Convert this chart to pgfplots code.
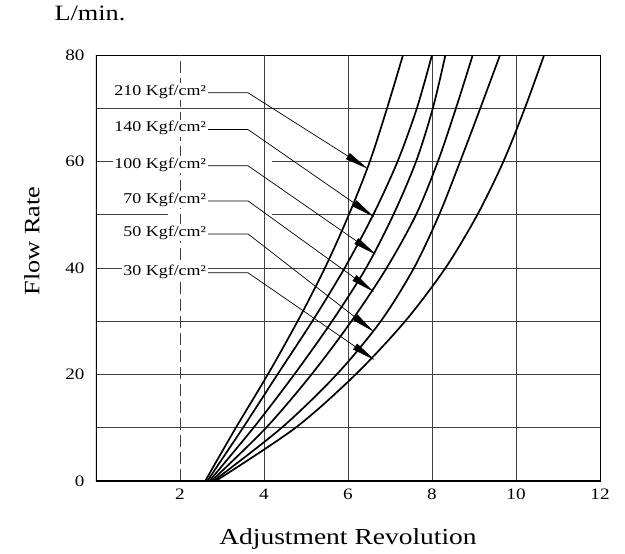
\documentclass[border=0pt]{standalone}
\usepackage{pgfplots}
\pgfplotsset{compat=1.18}
\usepackage{fontspec}
\setmainfont{Liberation Serif}[FakeStretch=1.2]
\usetikzlibrary{arrows.meta}

\newcommand\tickfont{\fontsize{16}{16}\selectfont}
\newcommand\lblfont{\fontsize{15}{15}\selectfont}
\newcommand\axfont{\fontsize{22}{22}\selectfont}

% x at y = 0,10,...,80 for each pressure
\pgfplotstableread{
x y
2.60 0
3.33 10
4.09 20
4.80 30
5.45 40
6.02 50
6.52 60
6.93 70
7.31 80
}\pa
\pgfplotstableread{
x y
2.65 0
3.50 10
4.32 20
5.15 30
5.92 40
6.60 50
7.18 60
7.64 70
8.00 80
}\pb
\pgfplotstableread{
x y
2.70 0
3.75 10
4.72 20
5.62 30
6.43 40
7.08 50
7.62 60
8.02 70
8.32 80
}\pc
\pgfplotstableread{
x y
2.75 0
4.05 10
5.13 20
6.08 30
6.92 40
7.62 50
8.14 60
8.57 70
8.97 80
}\pd
\pgfplotstableread{
x y
2.80 0
4.42 10
5.73 20
6.78 30
7.57 40
8.17 50
8.67 60
9.15 70
9.62 80
}\pe
\pgfplotstableread{
x y
2.85 0
4.75 10
6.18 20
7.36 30
8.32 40
9.08 50
9.70 60
10.21 70
10.67 80
}\pf

\begin{document}
\begin{tikzpicture}
\begin{axis}[
  scale only axis, width=504bp, height=426bp,
  xmin=0, xmax=12, ymin=0, ymax=80,
  xtick={2,4,...,12}, ytick={0,20,...,80},
  major tick length=0pt,
  axis line style={line width=0.9bp},
  /pgf/number format/assume math mode=true,
  ticklabel style={font=\tickfont},
  xticklabel style={yshift=-4bp},
  yticklabel style={xshift=-8bp},
  xlabel={Adjustment Revolution},
  xlabel style={at={(axis description cs:0.5,-0.136)}, anchor=center, font=\fontsize{23}{23}\selectfont},
  ylabel={Flow Rate},
  ylabel style={at={(axis description cs:-0.127,0.563)}, anchor=center, font=\axfont},
]
\tikzset{curve/.style={black, line width=1.7bp, smooth, no marks},
         gridl/.style={black!75, line width=0.8bp}}
% grid
\draw[gridl, dash pattern=on 12bp off 5bp] (axis cs:2,0) -- (axis cs:2,80);
\draw[gridl] (axis cs:4,0) -- (axis cs:4,80);
\draw[gridl] (axis cs:6,0) -- (axis cs:6,80);
\draw[gridl] (axis cs:8,0) -- (axis cs:8,80);
\draw[gridl] (axis cs:10,0) -- (axis cs:10,80);
\draw[gridl] (axis cs:0,10) -- (axis cs:12,10);
\draw[gridl] (axis cs:0,20) -- (axis cs:12,20);
\draw[gridl] (axis cs:0,30) -- (axis cs:12,30);
\draw[gridl] (axis cs:0,40) -- (axis cs:12,40);
\draw[gridl] (axis cs:0,50) -- (axis cs:1.71,50);
\draw[gridl] (axis cs:4.18,50) -- (axis cs:12,50);
\draw[gridl] (axis cs:0,60) -- (axis cs:0.45,60);
\draw[gridl] (axis cs:4.18,60) -- (axis cs:12,60);
\draw[gridl] (axis cs:0,70) -- (axis cs:12,70);

% pressure labels and leaders
\tikzset{plab/.style={anchor=mid east, fill=white, inner sep=1.5bp, font=\lblfont},
         lead/.style={line width=0.7bp, -{Triangle[length=24bp,width=7bp]}}}
\node[plab] at (axis cs:2.66,72.9) {210 Kgf/cm²};
\node[plab] at (axis cs:2.66,66.0) {140 Kgf/cm²};
\node[plab] at (axis cs:2.66,59.2) {100 Kgf/cm²};
\node[plab] at (axis cs:2.66,52.6) {70 Kgf/cm²};
\node[plab] at (axis cs:2.66,46.4) {50 Kgf/cm²};
\node[plab] at (axis cs:2.66,39.1) {30 Kgf/cm²};
\draw[lead] (axis cs:2.67,72.9) -- (axis cs:3.62,72.9) -- (axis cs:6.48,58.6);
\draw[lead] (axis cs:2.67,66.0) -- (axis cs:3.62,66.0) -- (axis cs:6.62,49.6);
\draw[lead] (axis cs:2.67,59.2) -- (axis cs:3.62,59.2) -- (axis cs:6.67,42.5);
\draw[lead] (axis cs:2.67,52.6) -- (axis cs:3.62,52.6) -- (axis cs:6.62,35.5);
\draw[lead] (axis cs:2.67,46.4) -- (axis cs:3.62,46.4) -- (axis cs:6.62,28.0);
\draw[lead] (axis cs:2.67,39.1) -- (axis cs:3.62,39.1) -- (axis cs:6.64,22.7);

\addplot[curve] table {\pa};
\addplot[curve] table {\pb};
\addplot[curve] table {\pc};
\addplot[curve] table {\pd};
\addplot[curve] table {\pe};
\addplot[curve] table {\pf};

\draw[line width=1.8bp] (axis cs:0,80) -- (axis cs:0,0) -- (axis cs:12,0);
\end{axis}
\node[font=\axfont] at ([xshift=-6bp,yshift=42bp]current axis.north west) {L/min.};
\pgfresetboundingbox
\path (current axis.south west) ++(-96bp,-73bp) rectangle ++(625bp,554bp);
\end{tikzpicture}
\end{document}
